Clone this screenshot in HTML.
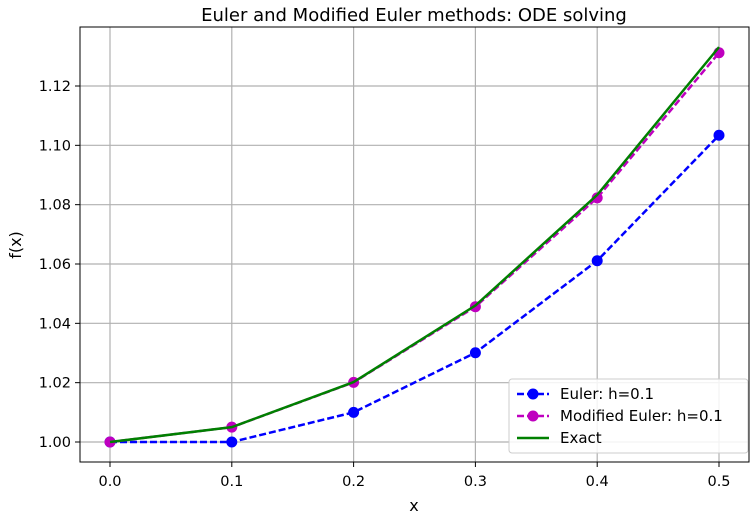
<!DOCTYPE html>
<html><head><meta charset="utf-8"><style>
body{margin:0;background:#fff;font-family:"DejaVu Sans","Liberation Sans",sans-serif}
</style></head><body>
<svg id="chart" width="756" height="521" xmlns="http://www.w3.org/2000/svg"></svg>
<script>
const xs=[0.0,0.1,0.2,0.3,0.4,0.5];
const euler=[1.0,1.0,1.01,1.0301,1.0611,1.1034];
const modEuler=[1.0,1.005,1.0201,1.0456,1.0823,1.1312];
const exact=[1.0,1.0050,1.0202,1.0460,1.0833,1.1331];
const xTicks=[0.0,0.1,0.2,0.3,0.4,0.5];
const yTicks=[1.00,1.02,1.04,1.06,1.08,1.10,1.12];
const L=80,R=749,T=27,B=462;
const X=v=>110+(v-0)*(719-110)/0.5;
const Y=v=>442-(v-1.0)*(442-86)/0.12;
const svg=document.getElementById('chart');
const NS='http://www.w3.org/2000/svg';
function mk(tag,attrs,parent){const e=document.createElementNS(NS,tag);for(const k in attrs)e.setAttribute(k,attrs[k]);(parent||svg).appendChild(e);return e;}
let g=mk('g',{});


xTicks.forEach(t=>{mk('line',{x1:X(t),x2:X(t),y1:T,y2:B,stroke:'#b0b0b0','stroke-width':1.2},g);
 const tl=mk('text',{x:X(t),y:B+24,'text-anchor':'middle','font-size':14.5,fill:'#000'});tl.textContent=t.toFixed(1);
 
 
 mk('line',{x1:X(t),x2:X(t),y1:B,y2:B+5,stroke:'#000'});});
yTicks.forEach(t=>{mk('line',{x1:L,x2:R,y1:Y(t),y2:Y(t),stroke:'#b0b0b0','stroke-width':1.2},g);
 const tl=mk('text',{x:L-9,y:Y(t)+5,'text-anchor':'end','font-size':14.5,fill:'#000'});tl.textContent=t.toFixed(2);
 
 
 mk('line',{x1:L-5,x2:L,y1:Y(t),y2:Y(t),stroke:'#000'});});
const frame=mk('rect',{x:L,y:T,width:R-L,height:B-T,fill:'none',stroke:'#000','stroke-width':1});


function series(vals,color,dash,markers,name){
 const pl=mk('polyline',{points:xs.map((x,i)=>X(x)+','+Y(vals[i])).join(' '),fill:'none',stroke:color,'stroke-width':2.5,'stroke-dasharray':dash});
 
 
 if(markers)xs.forEach((x,i)=>{const c=mk('circle',{cx:X(x),cy:Y(vals[i]),r:5.5,fill:color});
 
 });
}
series(euler,'#0000ff','7,3',true,'euler');
series(modEuler,'#bf00bf','7,3',true,'modified-euler');
series(exact,'#008000','',false,'exact');
const title=mk('text',{x:414,y:21,'text-anchor':'middle','font-size':18});title.textContent='Euler and Modified Euler methods: ODE solving';


const xl=mk('text',{x:414,y:511,'text-anchor':'middle','font-size':16});xl.textContent='x';


const yl=mk('text',{x:21,y:245,'text-anchor':'middle','font-size':16,transform:'rotate(-90 21 245)'});yl.textContent='f(x)';


const lg=mk('g',{});


mk('rect',{x:509,y:379,width:239,height:74,rx:3,fill:'#fff','fill-opacity':0.85,stroke:'#ccc'},lg);
[['Euler: h=0.1','#0000ff','7,3',true],['Modified Euler: h=0.1','#bf00bf','7,3',true],['Exact','#008000','',false]].forEach((e,i)=>{
 const y=394+i*22;
 mk('line',{x1:517,x2:549,y1:y,y2:y,stroke:e[1],'stroke-width':2.5,'stroke-dasharray':e[2]},lg);
 if(e[3])mk('circle',{cx:533,cy:y,r:5.5,fill:e[1]},lg);
 const t=mk('text',{x:560,y:y+5,'font-size':15},lg);t.textContent=e[0];
 
 
});
</script>
</body></html>
